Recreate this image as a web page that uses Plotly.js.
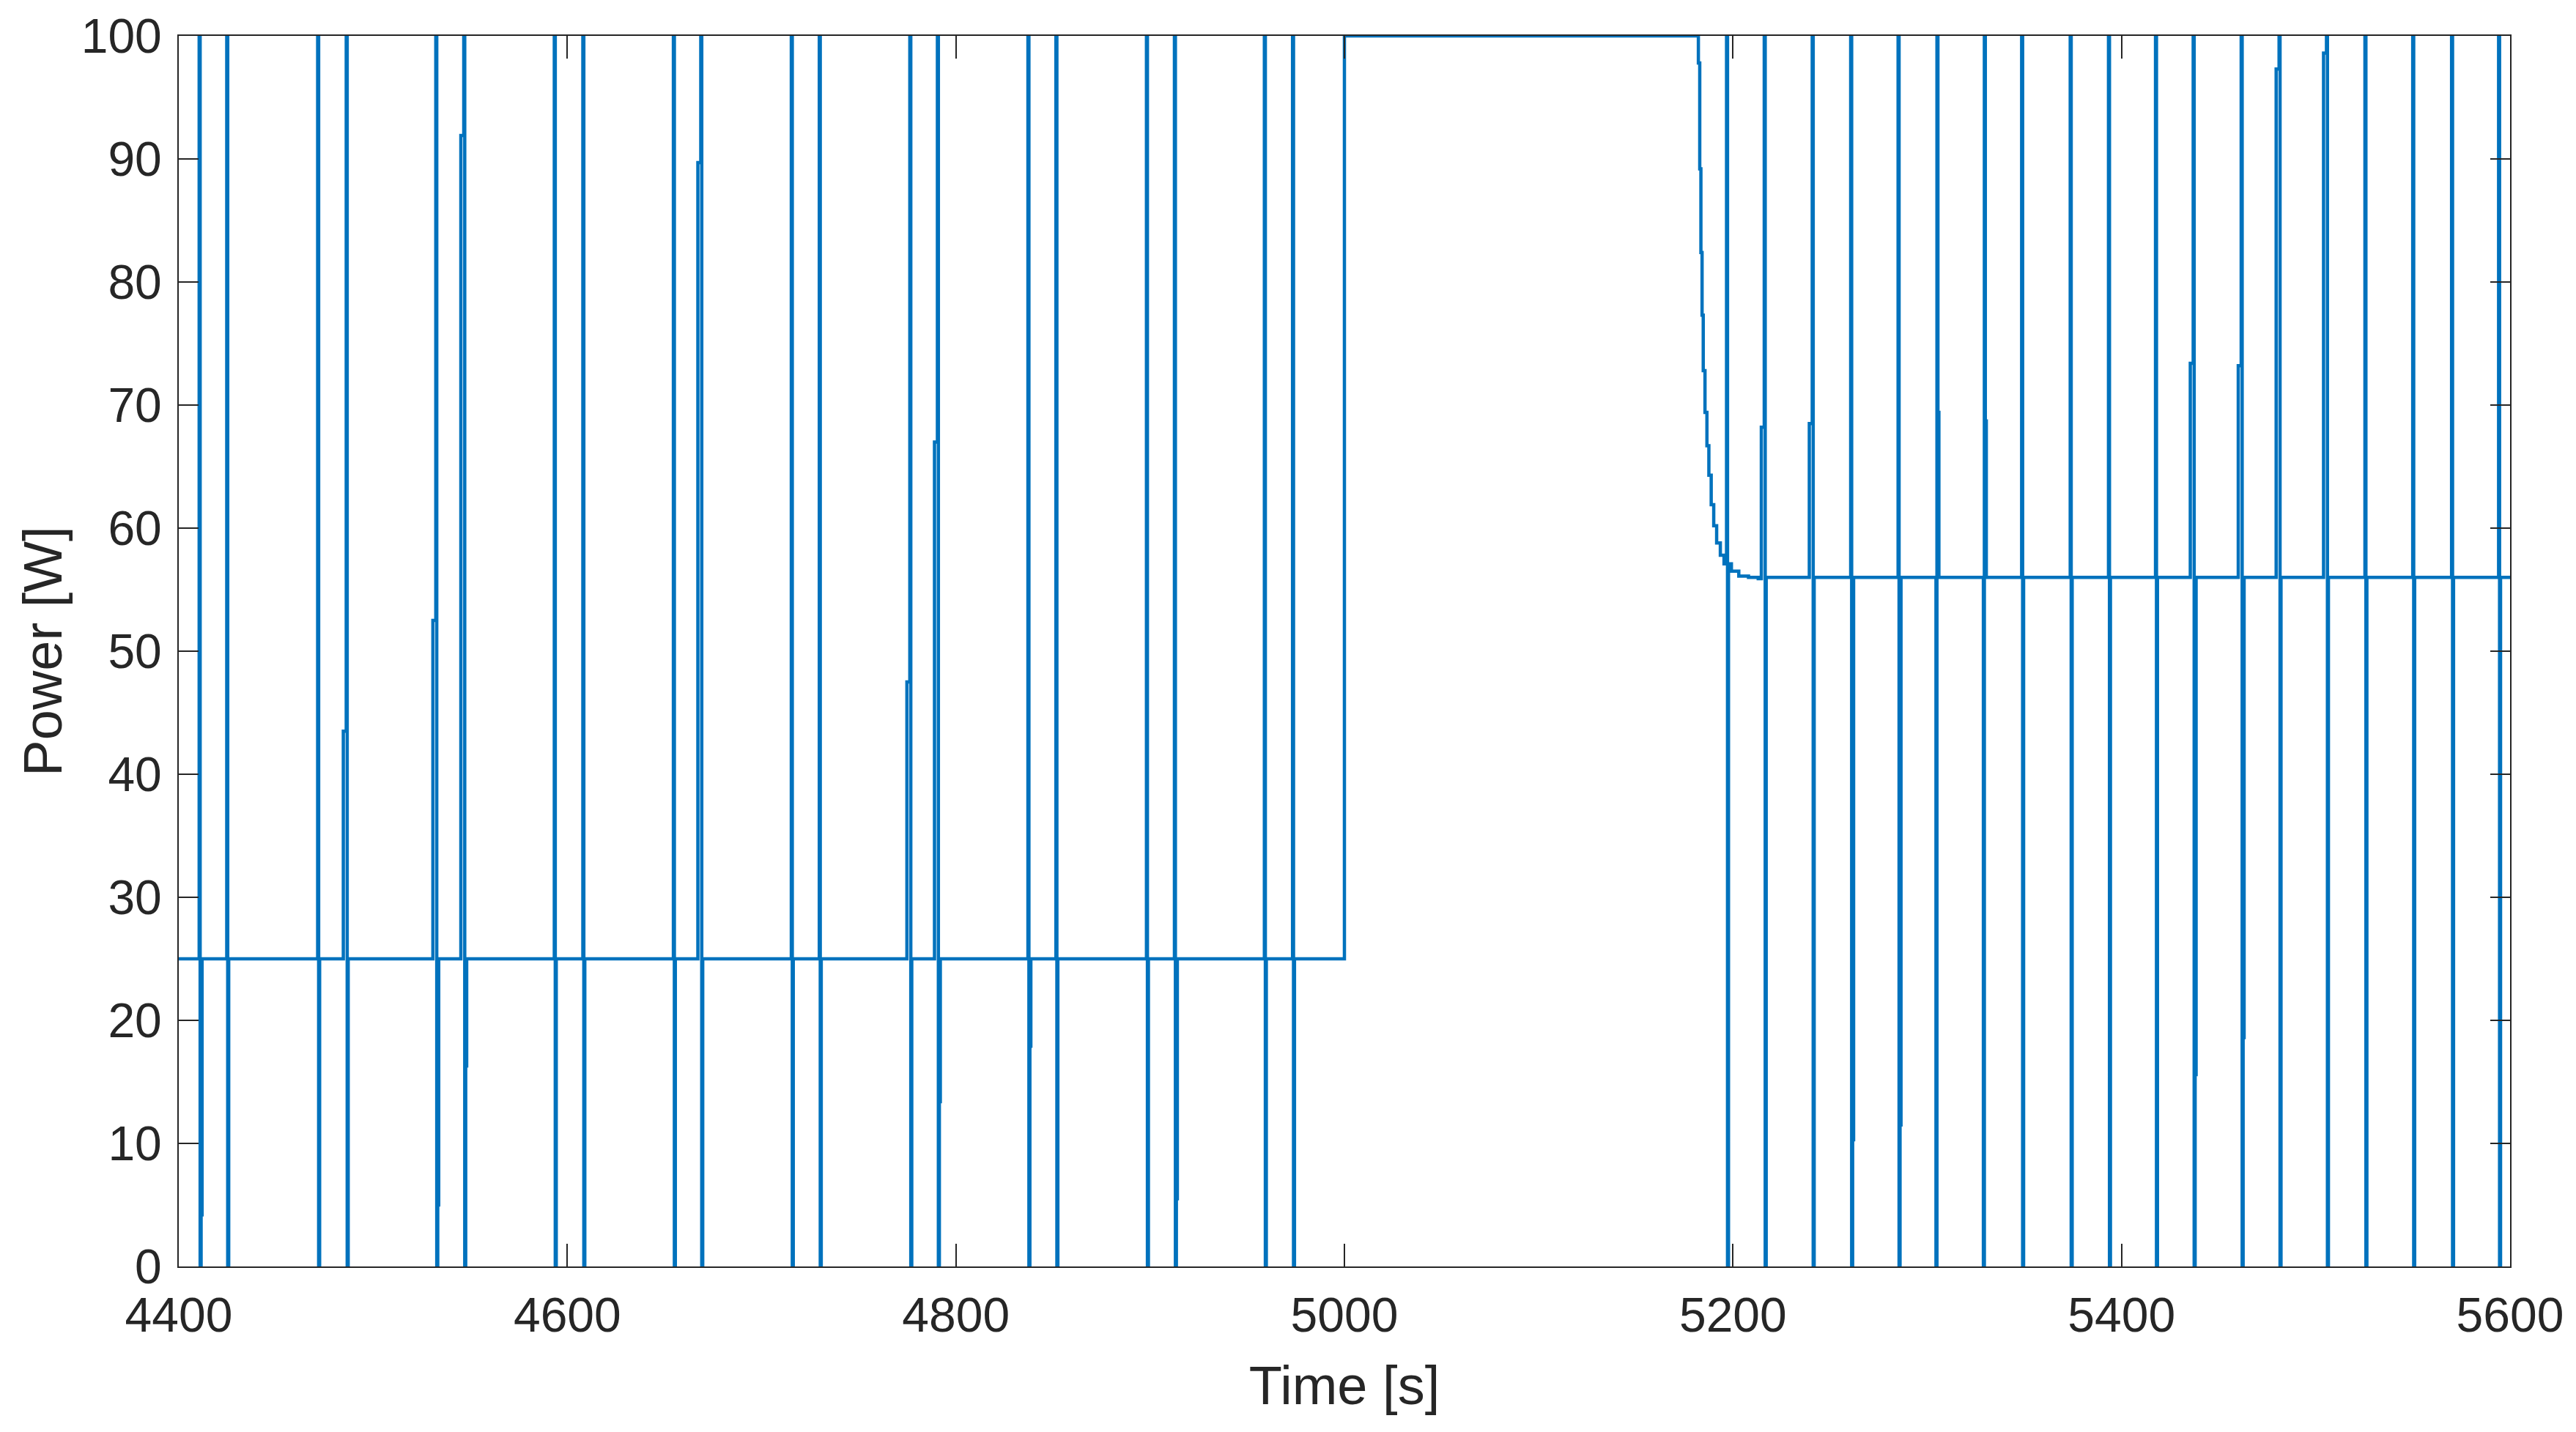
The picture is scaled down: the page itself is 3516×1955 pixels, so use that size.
<!DOCTYPE html>
<html>
<head>
<meta charset="utf-8">
<script src="https://cdn.plot.ly/plotly-3.0.1.min.js"></script>
<style>html,body{margin:0;padding:0;background:#fff;}</style>
</head>
<body>
<div id="chart" style="width:3516px;height:1955px;"></div>
<script>
// ---- data ----
const xTicks = [4400, 4600, 4800, 5000, 5200, 5400, 5600];
const yTicks = [0, 10, 20, 30, 40, 50, 60, 70, 80, 90, 100];

const baseBefore = 25;      // W, level before the 5000 s step
const baseAfter = 56;       // W, settled level after the decay
const stepTime = 5000;      // s, step up to 100 W
const stepLevel = 100;

// spikes before 5000 s : time [s] and the levels visited in order
const preSpikeTimes = [4410.5, 4424.7, 4471.5, 4486.2, 4532.3, 4546.7, 4593.3, 4608.0, 4654.6, 4668.7,
                       4715.3, 4729.7, 4776.3, 4790.5, 4837.1, 4851.5, 4898.1, 4912.5, 4958.8, 4973.3];
const preSpikeLevels = [
  [100, 0, 4.2], [100, 0], [100, 0], [43.5, 100, 0], [52.5, 100, 0, 5.0],
  [91.9, 100, 0, 16.3], [100, 0], [100, 0], [100, 0], [89.7, 100, 0],
  [100, 0], [100, 0], [47.5, 100, 0], [67.0, 100, 0, 13.4], [100, 0, 17.9],
  [100, 0], [100, 0], [100, 0, 5.5], [100, 0], [100, 0]
];

// decay from 100 W towards the new level
const decayTimes  = [5182.2, 5182.9, 5183.5, 5184.1, 5184.7, 5185.6, 5186.6, 5187.6, 5188.8, 5190.1, 5191.6, 5193.5, 5195.4];
const decayPower  = [97.8, 89.2, 82.4, 77.3, 72.8, 69.4, 66.7, 64.3, 61.9, 60.2, 58.8, 57.8, 57.1];
const tailTimes   = [5199.2, 5203.0, 5208.0, 5213.0];
const tailPower   = [56.5, 56.1, 56.0, 55.9];

// spikes after the step
const postSpikeTimes = [5196.7, 5216.1, 5240.8, 5260.6, 5285.0, 5304.5, 5328.9, 5348.6, 5373.6, 5393.3,
                        5417.5, 5436.9, 5461.6, 5481.1, 5505.5, 5525.3, 5549.9, 5569.9, 5594.1];
const postSpikeLevels = [
  [100, 0], [68.2, 100, 0], [68.5, 100, 0], [100, 0, 10.3], [100, 0, 11.5],
  [0, 100, 69.4], [0, 100, 68.7], [100, 0], [100, 0], [100, 0],
  [100, 0], [73.4, 100, 0, 15.6], [73.2, 100, 0, 18.6], [97.3, 100, 0], [98.6, 100, 0],
  [100, 0], [100, 0], [100, 0], [100, 0]
];

// ---- build the sampled (zero-order-hold) series ----
const PART = 1.5;  // s, hold time of a partial level
const FAST = 0.5;  // s, spacing of the full-scale transitions
const isFull = v => v === 0 || v === 100;

const T = [], P = [];
function addSpike(t, levels, base) {
  let i = 0;
  if (!isFull(levels[0])) { T.push(t - PART); P.push(levels[0]); i = 1; }
  let k = 0;
  for (; i < levels.length; i++) { T.push(t + k * FAST); P.push(levels[i]); k++; }
  const last = levels[levels.length - 1];
  T.push(isFull(last) ? t + k * FAST : t + PART); P.push(base);
}

T.push(xTicks[0]); P.push(baseBefore);
preSpikeTimes.forEach((t, i) => addSpike(t, preSpikeLevels[i], baseBefore));
T.push(stepTime); P.push(stepLevel);
decayTimes.forEach((t, i) => {
  if (t < postSpikeTimes[0]) { T.push(t); P.push(decayPower[i]); }
});
addSpike(postSpikeTimes[0], postSpikeLevels[0], decayPower[decayPower.length - 1]);
tailTimes.forEach((t, i) => { T.push(t); P.push(tailPower[i]); });
postSpikeTimes.slice(1).forEach((t, i) => addSpike(t, postSpikeLevels[i + 1], baseAfter));
T.push(xTicks[xTicks.length - 1]); P.push(baseAfter);

// ---- plot ----
const FONT = 'Liberation Sans, Arial, Helvetica, sans-serif';
const AX = '#262626';

const trace = {
  x: T, y: P, type: 'scatter', mode: 'lines',
  line: { color: '#0072BD', width: 4.5, shape: 'hv' },
  hoverinfo: 'skip', showlegend: false
};

const axisCommon = {
  showgrid: false, zeroline: false, showline: true, linecolor: AX, linewidth: 2,
  mirror: 'allticks', ticks: 'inside', tickwidth: 2, tickcolor: AX,
  tickfont: { family: FONT, size: 66, color: AX }, automargin: false
};

const layout = {
  width: 3516, height: 1955,
  margin: { l: 244, r: 90, t: 49, b: 226 },
  paper_bgcolor: '#ffffff', plot_bgcolor: '#ffffff',
  font: { family: FONT, color: AX },
  xaxis: Object.assign({}, axisCommon, {
    range: [xTicks[0], xTicks[xTicks.length - 1]],
    tickmode: 'array', tickvals: xTicks, ticktext: xTicks.map(String),
    ticklen: 31, ticklabelstandoff: 8,
    title: { text: 'Time [s]', font: { family: FONT, size: 74, color: AX }, standoff: 34 }
  }),
  yaxis: Object.assign({}, axisCommon, {
    range: [yTicks[0], yTicks[yTicks.length - 1]],
    tickmode: 'array', tickvals: yTicks, ticktext: yTicks.map(String),
    ticklen: 27, ticklabelstandoff: 8,
    title: { text: 'Power [W]', font: { family: FONT, size: 74, color: AX }, standoff: 2 }
  })
};

Plotly.newPlot('chart', [trace], layout, { staticPlot: true, displayModeBar: false });
</script>
</body>
</html>
